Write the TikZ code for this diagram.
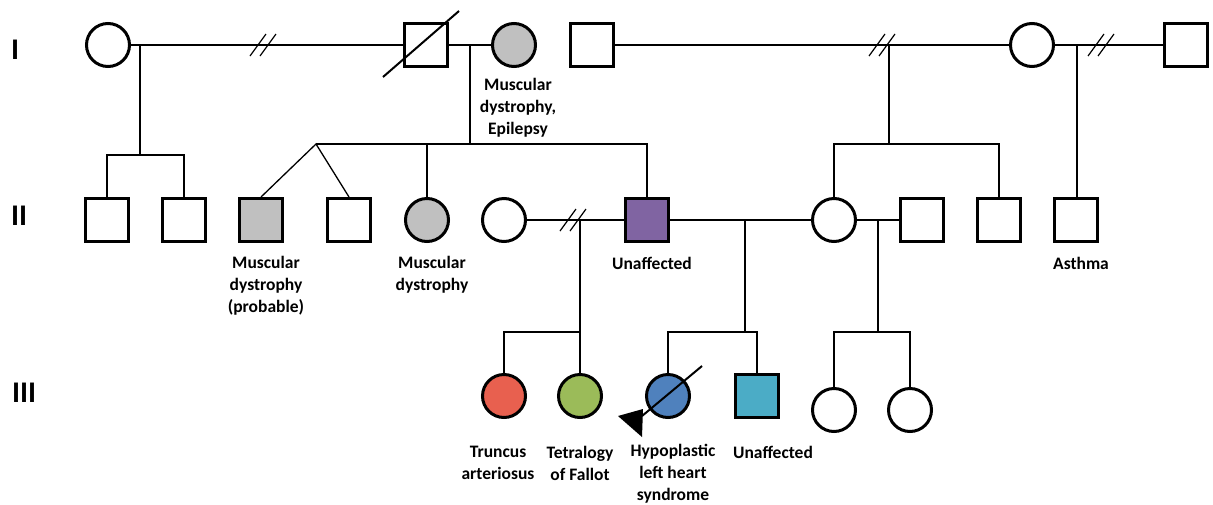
\documentclass[tikz,border=0pt]{standalone}
\usepackage{fontspec}
\setmainfont{Carlito}
\usepackage{tikz}
\usetikzlibrary{positioning}
\definecolor{mdgray}{HTML}{C0C0C0}
\definecolor{unaff}{HTML}{8064A2}
\definecolor{truncus}{HTML}{E8604F}
\definecolor{fallot}{HTML}{9BBB59}
\definecolor{hlhs}{HTML}{4F81BD}
\definecolor{unaffiii}{HTML}{4BACC6}
\tikzset{male/.style = {draw, rectangle, line width = 3, minimum size = 43, inner sep = 0}}
\tikzset{female/.style = {draw, circle, line width = 3, minimum size = 43, inner sep = 0}}
\tikzset{rel/.style = {line width = 1.3}}
\tikzset{lab/.style = {font = \bfseries\fontsize{17.5}{22}\selectfont, align = center, inner sep = 0}}
\tikzset{gen/.style = {font = \bfseries\fontsize{30}{30}\selectfont, inner sep = 0}}
\tikzset{splitmark/.pic = {\draw [line width = 1.2] (-15, 11) -- (1, -11) (-5, 11) -- (11, -11);}}

\begin{document}
\begin{tikzpicture}[x = 1pt, y = -1pt]
  \useasboundingbox (0, 0) rectangle (1213, 504);

  \node [gen] (gI) at (15, 50) {I};
  \node [gen] (gII) at (19, 216) {II};
  \node [gen] (gIII) at (24, 393) {III};

  % generation I
  \node [female] (I1) at (108, 45) {};
  \node [male] (I2) at (426, 45) {};
  \node [female, fill = mdgray] (I3) at (514, 45) {};
  \node [male] (I4) at (592, 45) {};
  \node [female] (I5) at (1032, 45) {};
  \node [male] (I6) at (1186, 45) {};
  \draw [line width = 2] ([shift = {(-43, 32)}] I2.center) -- ([shift = {(33, -34)}] I2.center);

  % generation II
  \foreach \x/\n in {107/1, 184/2, 349/4, 922/9, 999/10, 1076/11} {
    \node [male] (II\n) at (\x, 220) {};
  }
  \node [male, fill = mdgray] (II3) at (261, 220) {};
  \node [female, fill = mdgray] (II5) at (427, 220) {};
  \node [female] (II6) at (504, 220) {};
  \node [male, fill = unaff] (II7) at (647, 220) {};
  \node [female] (II8) at (834, 220) {};

  % generation III
  \node [female, fill = truncus] (III1) at (504, 396) {};
  \node [female, fill = fallot] (III2) at (580, 396) {};
  \node [female, fill = hlhs] (III3) at (668, 396) {};
  \node [male, fill = unaffiii] (III4) at (757, 396) {};
  \node [female] (III5) at (834, 410) {};
  \node [female] (III6) at (910, 410) {};
  \draw [line width = 2] ([shift = {(34, -30)}] III3.center) -- ([shift = {(-26, 20)}] III3.center);
  \fill ([shift = {(-50, 20)}] III3.center) -- ([shift = {(-25, 13)}] III3.center)
    -- ([shift = {(-26, 41)}] III3.center) -- cycle;

  % couples and sibships
  \coordinate (c1) at (140, 45);
  \coordinate (b1) at (140, 155);
  \draw [rel] (I1) -- (I2);
  \pic at (265, 45) {splitmark};
  \draw [rel] (c1) -- (b1);
  \draw [rel] (II1.north) |- (b1) -| (II2.north);

  \coordinate (c2) at (470, 45);
  \coordinate (b2) at (470, 144);
  \coordinate (tw) at (316, 144);
  \draw [rel] (I2) -- (I3);
  \draw [rel] (c2) -- (b2);
  \draw [rel] (tw) -| (II7.north);
  \draw [rel] (II3.north) -- (tw) -- (II4.north);
  \draw [rel] (II5.north) -- (II5.north |- tw);

  \coordinate (c3) at (889, 45);
  \coordinate (b3) at (889, 144);
  \draw [rel] (I4) -- (I5);
  \pic at (884, 45) {splitmark};
  \draw [rel] (c3) -- (b3);
  \draw [rel] (II8.north) |- (b3) -| (II10.north);

  \coordinate (c4) at (1077, 45);
  \draw [rel] (I5) -- (I6);
  \pic at (1103, 45) {splitmark};
  \draw [rel] (c4) -- (c4 |- II11.north);

  \coordinate (c5) at (580, 220);
  \coordinate (b5) at (580, 332);
  \draw [rel] (II6) -- (II7);
  \pic at (575, 220) {splitmark};
  \draw [rel] (c5) -- (III2.north);
  \draw [rel] (III1.north) |- (b5);

  \coordinate (c6) at (745, 220);
  \coordinate (b6) at (745, 332);
  \draw [rel] (II7) -- (II8);
  \draw [rel] (c6) -- (b6);
  \draw [rel] (III3.north) |- (b6) -| (III4.north);

  \coordinate (c7) at (878, 220);
  \coordinate (b7) at (878, 332);
  \draw [rel] (II8) -- (II9);
  \draw [rel] (c7) -- (b7);
  \draw [rel] (III5.north) |- (b7) -| (III6.north);

  % labels
  \node [lab] (lI3) at (518, 108) {Muscular\\dystrophy,\\Epilepsy};
  \node [lab] (lII3) at (266, 286) {Muscular\\dystrophy\\(probable)};
  \node [lab] (lII5) at (432, 275) {Muscular\\dystrophy};
  \node [lab] (lII7) at (652, 263) {Unaffected};
  \node [lab] (lII11) at (1081, 263) {Asthma};
  \node [lab] (lIII1) at (498, 463) {Truncus\\arteriosus};
  \node [lab] (lIII2) at (580, 463) {Tetralogy\\of Fallot};
  \node [lab] (lIII3) at (673, 474) {Hypoplastic\\left heart\\syndrome};
  \node [lab] (lIII4) at (773, 452) {Unaffected};
\end{tikzpicture}
\end{document}
